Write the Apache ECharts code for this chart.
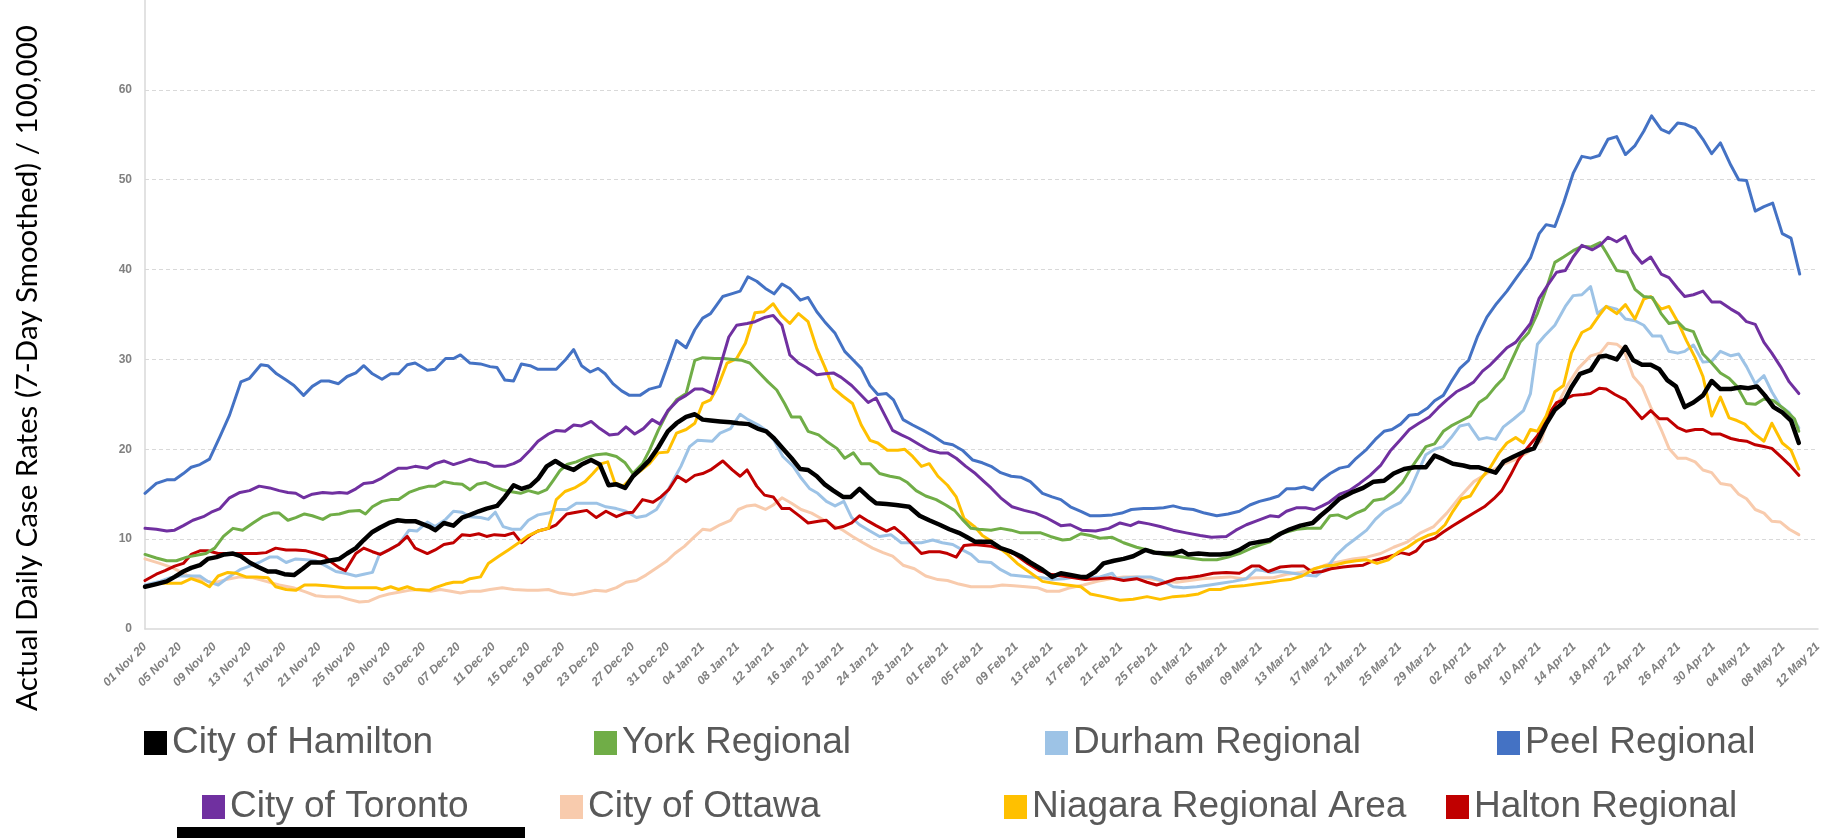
<!DOCTYPE html>
<html><head><meta charset="utf-8">
<script src="https://cdn.jsdelivr.net/npm/echarts@6/dist/echarts.min.js"></script>
<style>html,body{margin:0;padding:0;background:#fff}#c{width:1831px;height:838px}</style>
</head><body><div id="c"></div><script>
// x = days since 01 Nov 2020, y = rate
const tickLabels = ['01 Nov 20','05 Nov 20','09 Nov 20','13 Nov 20','17 Nov 20','21 Nov 20','25 Nov 20','29 Nov 20',
'03 Dec 20','07 Dec 20','11 Dec 20','15 Dec 20','19 Dec 20','23 Dec 20','27 Dec 20','31 Dec 20',
'04 Jan 21','08 Jan 21','12 Jan 21','16 Jan 21','20 Jan 21','24 Jan 21','28 Jan 21',
'01 Feb 21','05 Feb 21','09 Feb 21','13 Feb 21','17 Feb 21','21 Feb 21','25 Feb 21',
'01 Mar 21','05 Mar 21','09 Mar 21','13 Mar 21','17 Mar 21','21 Mar 21','25 Mar 21','29 Mar 21',
'02 Apr 21','06 Apr 21','10 Apr 21','14 Apr 21','18 Apr 21','22 Apr 21','26 Apr 21','30 Apr 21',
'04 May 21','08 May 21','12 May 21'];

const names = ['City of Hamilton','York Regional','Durham Regional','Peel Regional','City of Toronto','City of Ottawa','Niagara Regional Area','Halton Regional'];
const colors = ['#000000','#70ad47','#9dc3e6','#4472c4','#7030a0','#f8cbad','#ffc000','#c00000'];

const hamilton = [[0,4.7],[1.3,5.0],[2.5,5.3],[3.4,5.8],[4.4,6.4],[5.3,6.8],[6.3,7.1],[7.2,7.8],[8.2,8.0],[9.1,8.3],[10.1,8.4],[11.0,8.1],[12.0,7.4],[13.0,6.9],[14.1,6.4],[15.0,6.4],[16.0,6.1],[17.1,6.0],[18.1,6.7],[19.0,7.4],[20.2,7.4],[21.1,7.6],[22.3,7.8],[23.2,8.4],[24.2,9.0],[25.1,9.9],[26.1,10.8],[27.0,11.3],[28.0,11.8],[29.0,12.1],[29.9,12.0],[31.0,12.0],
[32.6,11.4],[33.3,11.0],[34.3,11.8],[35.4,11.5],[36.4,12.4],[37.3,12.7],[38.3,13.1],[39.2,13.4],[40.4,13.7],[41.3,14.7],[42.3,16.0],[43.2,15.6],[44.2,15.9],[45.1,16.7],[46.1,18.1],[47.1,18.7],[48.1,18.1],[49.2,17.7],[50.1,18.3],[51.2,18.8],[52.2,18.3],[53.2,16.0],[54.1,16.1],[55.1,15.7],[56.0,17.0],[57.0,17.9],[57.9,18.8],[58.9,20.2],[60.0,22.0],[61.0,22.9],[62.1,23.6],[63.1,23.9],[64.0,23.3],
[64.9,23.2],[66.0,23.1],[67.2,23.0],[68.1,22.9],[69.3,22.8],[70.3,22.3],[71.3,22.0],[72.2,21.2],[73.2,20.1],[74.2,19.0],[75.2,17.8],[76.1,17.7],[77.1,17.0],[78.0,16.1],[79.0,15.4],[80.1,14.7],[81.0,14.7],[82.0,15.6],[83.0,14.7],[83.9,14.0],[85.1,13.9],[86.2,13.8],[87.7,13.6],[88.9,12.6],[90.0,12.1],[91.2,11.6],[92.3,11.1],[93.4,10.7],[94.2,10.3],[95.3,9.7],
[97.1,9.7],[98.2,9.0],[99.4,8.6],[100.5,8.1],[101.6,7.4],[103.0,6.6],[104.1,5.8],[105.1,6.2],[106.2,6.0],[107.4,5.8],[108.1,5.8],[109.1,6.4],[110.0,7.3],[111.2,7.6],[112.3,7.8],[113.4,8.1],[114.8,8.8],[115.8,8.5],[117.1,8.4],[118.0,8.4],[119.0,8.7],[119.7,8.3],[120.9,8.4],[122.2,8.3],[123.4,8.3],[124.5,8.4],[125.6,8.8],[126.8,9.5],[127.9,9.7],
[129.1,9.9],[130.3,10.6],[131.4,11.1],[132.6,11.5],[134.0,11.8],[134.9,12.6],[136.0,13.5],[137.1,14.5],[138.5,15.2],[139.8,15.7],[141.0,16.4],[142.2,16.5],[143.3,17.3],[144.5,17.8],[145.7,18.0],[147.0,18.0],[148.0,19.3],[149.0,18.9],[150.1,18.4],[151.3,18.2],[152.1,18.0],[153.1,18.0],[154.0,17.7],[155.0,17.4],[155.9,18.6],[157.1,19.2],[158.2,19.7],[159.4,20.1],
[160.8,22.8],[161.8,24.4],[162.8,25.2],[163.7,26.9],[164.7,28.4],[165.9,28.8],[166.9,30.3],[167.7,30.4],[168.9,30.0],[169.9,31.4],[170.8,29.9],[171.8,29.4],[172.8,29.4],[173.8,28.9],[174.7,27.7],[175.7,27.0],[176.7,24.7],[177.7,25.2],[178.8,26.0],[179.8,27.6],[180.8,26.7],[182.0,26.7],[183.1,26.9],[184.0,26.8],[185.0,27.0],[185.9,26.0],[186.9,24.7],[187.9,24.1],[188.9,23.2],[189.8,20.7]];

const york = [[0,8.3],[1.3,7.9],[2.5,7.6],[3.6,7.6],[4.8,8.0],[5.9,8.2],[7.0,8.4],[8.0,9.0],[9.0,10.3],[10.1,11.2],[11.2,11.0],[12.4,11.8],[13.5,12.5],[14.7,12.9],[15.4,12.9],[16.4,12.1],[17.3,12.4],[18.3,12.8],[19.2,12.6],[20.4,12.2],[21.3,12.7],[22.3,12.8],[23.4,13.1],[24.6,13.2],[25.3,12.8],[26.1,13.6],[27.2,14.2],[28.2,14.4],[29.1,14.4],[30.3,15.2],[31.4,15.6],
[32.6,15.9],[33.3,15.9],[34.3,16.4],[35.4,16.2],[36.4,16.1],[37.3,15.5],[38.1,16.1],[39.1,16.3],[40.0,15.9],[41.0,15.5],[41.9,15.3],[43.1,15.1],[44.0,15.4],[45.1,15.1],[46.1,15.5],[46.9,16.6],[47.6,17.6],[48.4,18.3],[49.5,18.6],[50.7,19.1],[51.8,19.4],[52.9,19.5],[54.1,19.2],[55.1,18.5],[56.0,17.3],[57.1,18.4],[57.9,19.9],[58.9,22.1],[60.0,24.2],[61.0,25.5],[62.1,26.2],[63.1,29.9],[64.0,30.2],
[65.4,30.1],[66.4,30.1],[67.5,30.0],[68.5,29.9],[69.4,29.6],[70.6,28.4],[71.5,27.5],[72.5,26.6],[73.4,25.1],[74.2,23.6],[75.2,23.6],[76.1,22.0],[77.3,21.6],[78.2,20.9],[79.4,20.1],[80.3,19.0],[81.3,19.6],[82.2,18.4],[83.2,18.4],[84.3,17.3],[85.5,17.0],[86.6,16.8],[87.5,16.3],[88.5,15.4],[89.6,14.8],[90.8,14.4],[91.9,13.8],[92.9,13.2],[93.8,12.2],[94.8,11.2],[95.7,11.1],
[97.1,11.0],[98.2,11.2],[99.4,11.0],[100.5,10.7],[101.6,10.7],[102.8,10.7],[103.9,10.3],[105.3,9.9],[106.2,10.0],[107.4,10.6],[108.5,10.4],[109.6,10.1],[111.0,10.2],[112.3,9.6],[113.8,9.1],[115.4,8.7],[116.9,8.3],[118.4,8.1],[119.9,7.9],[121.4,7.7],[123.0,7.7],[124.3,8.0],[125.6,8.4],[127.0,9.0],[128.1,9.4],
[129.1,9.7],[130.1,10.5],[131.0,10.8],[132.2,11.1],[133.4,11.2],[134.9,11.2],[136.0,12.6],[136.9,12.7],[137.9,12.3],[139.0,12.9],[140.0,13.3],[141.0,14.3],[142.2,14.5],[143.3,15.3],[144.3,16.3],[145.3,17.9],[146.3,19.3],[147.0,20.3],[148.0,20.6],[149.0,22.0],[149.9,22.6],[151.1,23.2],[152.1,23.7],[153.1,25.2],[154.0,25.8],[155.0,27.0],[155.9,27.9],[156.9,30.0],[157.8,31.9],[158.8,33.0],[159.8,35.1],[160.8,37.8],
[161.8,40.8],[162.8,41.4],[163.9,42.1],[164.9,42.6],[165.9,42.5],[167.0,43.0],[167.7,41.9],[168.9,39.9],[170.1,39.7],[171.0,37.8],[172.0,37.0],[173.0,36.9],[174.0,35.1],[174.9,34.0],[175.9,34.2],[176.7,33.4],[177.7,33.1],[178.8,30.6],[179.8,29.6],[180.8,28.5],[181.8,27.9],[182.7,27.0],[183.8,25.1],[184.8,25.0],[185.8,25.6],[186.9,25.4],[188.1,24.5],[189.3,23.4],[189.8,22.0]];

const durham = [[0,4.9],[1.7,5.3],[2.9,5.7],[4.0,5.9],[5.1,5.9],[6.3,5.9],[7.2,5.3],[8.4,4.9],[9.5,5.7],[10.9,6.6],[12.0,7.0],[13.1,7.4],[14.3,8.0],[15.2,8.0],[16.2,7.4],[17.3,7.8],[18.5,7.7],[19.6,7.6],[20.8,7.0],[21.9,6.4],[23.0,6.2],[24.2,5.9],[25.1,6.1],[26.1,6.3],[26.9,8.3],[28.0,8.8],[29.1,9.4],[30.3,11.0],[31.2,10.9],
[32.4,11.9],[33.3,11.4],[34.5,12.2],[35.4,13.1],[36.4,13.0],[37.3,12.5],[38.5,12.4],[39.4,12.2],[40.2,13.0],[41.1,11.4],[42.1,11.1],[43.1,11.1],[44.0,12.1],[45.1,12.7],[46.3,12.9],[47.2,13.3],[48.4,13.3],[49.5,14.0],[50.7,14.0],[51.8,14.0],[52.9,13.6],[54.1,13.4],[55.2,13.1],[56.4,12.4],[57.5,12.6],[58.7,13.3],[59.6,14.7],[60.6,16.5],[61.5,18.1],[62.5,20.3],[63.4,21.0],
[65.1,20.9],[66.0,21.8],[67.2,22.3],[68.3,23.9],[69.2,23.3],[70.4,22.7],[71.3,22.1],[72.2,21.0],[73.2,19.2],[74.4,18.1],[75.3,16.8],[76.3,15.6],[77.2,15.1],[78.2,14.2],[79.2,13.7],[80.2,14.2],[81.1,12.4],[82.0,11.6],[83.2,10.9],[84.3,10.3],[85.6,10.5],[86.8,9.6],[87.9,9.6],[89.1,9.6],[90.4,9.9],[91.5,9.6],[92.7,9.4],[93.8,8.8],[94.8,8.3],[95.7,7.5],
[97.1,7.4],[98.2,6.6],[99.4,6.0],[100.5,5.9],[101.6,5.8],[103.0,5.7],[104.1,5.5],[105.5,5.6],[106.8,5.8],[108.1,5.7],[109.6,5.8],[111.0,6.2],[111.5,5.6],[112.7,5.7],[114.0,5.8],[115.4,5.8],[116.7,5.4],[118.0,4.7],[119.2,4.6],[120.7,4.7],[122.2,4.9],[123.5,5.1],[124.9,5.3],[126.4,5.6],[127.5,6.6],[128.3,6.5],
[129.1,6.3],[130.3,6.4],[131.8,6.2],[133.0,6.0],[134.4,5.9],[135.7,6.9],[136.7,8.2],[137.9,9.3],[139.0,10.1],[140.2,11.0],[141.2,12.2],[142.2,13.1],[143.3,13.7],[144.1,14.1],[145.1,15.3],[146.1,17.5],[147.0,19.4],[148.0,20.0],[149.0,20.3],[149.9,21.3],[150.9,22.6],[151.9,22.8],[153.1,21.1],[154.0,21.3],[155.0,21.1],[155.9,22.5],[157.1,23.4],[158.2,24.3],[159.0,26.2],[159.8,31.7],[160.6,32.6],
[161.8,33.8],[163.0,35.9],[163.9,37.1],[164.9,37.2],[165.9,38.1],[166.7,35.1],[167.7,35.9],[168.9,35.6],[169.9,34.5],[171.0,34.3],[172.0,33.8],[173.0,32.6],[174.0,32.6],[174.9,30.9],[175.9,30.7],[176.7,30.9],[177.7,31.6],[178.8,29.7],[179.8,29.8],[180.8,30.9],[182.0,30.4],[182.9,30.6],[183.8,29.2],[184.8,27.3],[185.8,28.2],[186.7,26.4],[187.7,24.8],[188.7,24.1],[189.8,22.4]];

const peel = [[0,15.1],[1.3,16.2],[2.5,16.6],[3.4,16.6],[4.4,17.3],[5.3,18.0],[6.3,18.3],[7.4,18.9],[8.6,21.4],[9.7,23.8],[11.0,27.5],[12.0,27.9],[13.3,29.4],[14.1,29.3],[15.1,28.4],[16.2,27.7],[17.1,27.1],[18.2,26.0],[19.2,27.0],[20.2,27.6],[21.1,27.6],[22.2,27.3],[23.2,28.1],[24.2,28.5],[25.1,29.3],[26.1,28.4],[27.2,27.8],[28.2,28.4],[29.1,28.4],[30.1,29.4],[31.0,29.6],
[32.4,28.8],[33.3,28.9],[34.5,30.1],[35.4,30.1],[36.2,30.5],[37.3,29.6],[38.5,29.5],[39.6,29.2],[40.4,29.1],[41.3,27.7],[42.3,27.6],[43.2,29.5],[44.2,29.3],[45.1,28.9],[46.3,28.9],[47.2,28.9],[48.2,29.9],[49.2,31.1],[50.1,29.3],[51.1,28.6],[52.0,29.0],[52.8,28.4],[53.7,27.3],[54.7,26.5],[55.6,26.0],[56.8,26.0],[57.9,26.7],[59.1,27.0],[60.0,29.4],[61.0,32.1],[62.1,31.3],[63.1,33.3],[64.0,34.6],
[64.9,35.1],[66.3,37.0],[67.3,37.3],[68.3,37.6],[69.2,39.2],[70.2,38.7],[71.2,37.9],[72.2,37.3],[73.1,38.4],[74.0,37.9],[75.2,36.6],[76.1,36.9],[77.1,35.3],[78.0,34.2],[79.2,32.9],[80.3,30.9],[81.3,29.9],[82.2,29.0],[83.2,27.1],[84.1,26.1],[85.1,26.2],[85.9,25.5],[87.0,23.3],[88.1,22.7],[89.3,22.1],[90.4,21.5],[91.7,20.7],[92.7,20.5],[93.8,19.9],[95.0,18.8],[96.1,18.5],
[97.1,18.1],[98.2,17.4],[99.4,17.0],[100.5,16.9],[101.6,16.4],[103.0,15.1],[104.1,14.7],[105.1,14.4],[106.2,13.6],[107.4,13.1],[108.5,12.6],[109.6,12.6],[111.0,12.7],[112.1,12.9],[113.2,13.3],[114.6,13.4],[115.7,13.4],[116.9,13.5],[118.0,13.7],[119.2,13.4],[120.3,13.3],[121.6,12.9],[123.0,12.6],[124.3,12.8],[125.6,13.1],[126.8,13.8],[127.9,14.2],
[129.1,14.5],[130.1,14.8],[131.0,15.6],[132.0,15.6],[133.0,15.8],[134.0,15.5],[134.9,16.5],[136.0,17.3],[137.1,17.9],[138.1,18.1],[139.0,19.0],[140.2,20.0],[141.2,21.1],[142.2,22.0],[143.1,22.2],[144.1,22.8],[145.1,23.8],[146.1,23.9],[147.2,24.6],[148.0,25.4],[149.0,26.0],[149.9,27.5],[150.9,29.0],[151.9,29.9],[152.9,32.5],[154.0,34.7],[155.1,36.2],[156.3,37.6],[157.4,39.1],[158.6,40.7],[159.0,41.3],[160.0,44.0],[160.8,45.0],
[161.8,44.8],[162.8,47.4],[163.9,50.7],[164.9,52.6],[165.9,52.4],[166.9,52.7],[167.9,54.5],[168.9,54.8],[169.9,52.8],[171.0,53.8],[172.0,55.4],[172.9,57.1],[174.0,55.6],[174.9,55.2],[175.9,56.3],[176.7,56.2],[177.9,55.7],[178.8,54.5],[179.8,52.9],[180.8,54.1],[182.0,51.6],[182.9,50.0],[183.8,49.9],[184.8,46.5],[185.8,47.0],[186.8,47.4],[187.9,44.0],[188.9,43.5],[189.9,39.5]];

const toronto = [[0,11.2],[1.3,11.1],[2.5,10.9],[3.4,11.0],[4.4,11.5],[5.5,12.1],[6.7,12.5],[7.6,13.0],[8.6,13.4],[9.7,14.6],[10.9,15.2],[12.0,15.4],[13.1,15.9],[14.3,15.7],[15.4,15.4],[16.4,15.2],[17.3,15.1],[18.2,14.6],[19.2,15.0],[20.4,15.2],[21.5,15.1],[22.3,15.2],[23.2,15.1],[24.2,15.6],[25.1,16.2],[26.1,16.3],[27.0,16.7],[28.0,17.3],[29.1,17.9],[30.1,17.9],[31.0,18.1],
[32.4,17.9],[33.3,18.4],[34.3,18.7],[35.4,18.3],[36.4,18.6],[37.3,18.9],[38.3,18.6],[39.2,18.5],[40.1,18.1],[41.3,18.1],[42.3,18.4],[43.1,18.8],[44.2,19.9],[45.1,20.9],[46.3,21.7],[47.2,22.1],[48.2,22.0],[49.2,22.7],[50.1,22.6],[51.2,23.1],[52.2,22.3],[53.3,21.6],[54.3,21.7],[55.2,22.5],[56.2,21.7],[57.2,22.3],[58.2,23.3],[59.1,22.8],[60.0,24.3],[61.2,25.5],[62.1,26.0],[63.1,26.7],[64.0,26.7],
[65.1,26.2],[66.0,29.2],[67.0,32.5],[67.9,33.8],[69.1,34.0],[70.0,34.2],[71.2,34.7],[72.1,34.9],[73.1,33.8],[74.0,30.5],[75.0,29.6],[75.9,29.1],[77.1,28.3],[78.0,28.4],[79.0,28.5],[79.9,28.0],[81.1,27.1],[82.0,26.2],[83.0,25.2],[83.9,25.7],[84.9,23.8],[85.8,22.1],[86.8,21.6],[87.7,21.2],[88.9,20.5],[90.0,19.9],[91.2,19.6],[92.1,19.6],[93.1,19.0],[94.2,18.1],[95.3,17.3],[96.3,16.4],
[97.1,15.7],[98.2,14.6],[99.5,13.6],[100.9,13.2],[102.2,12.9],[103.6,12.3],[105.1,11.5],[106.2,11.6],[107.5,11.0],[109.1,10.9],[110.6,11.2],[111.9,11.8],[113.1,11.5],[114.0,11.9],[115.2,11.7],[116.5,11.4],[118.0,11.0],[119.5,10.7],[121.1,10.4],[122.4,10.2],[124.1,10.3],[125.2,11.0],[126.4,11.6],[127.5,12.0],
[129.1,12.6],[130.1,12.5],[131.0,13.1],[132.2,13.5],[133.2,13.5],[134.2,13.3],[135.1,13.7],[135.9,14.1],[137.1,15.0],[138.2,15.4],[139.4,16.2],[140.6,17.1],[141.8,18.2],[142.9,19.8],[144.1,21.1],[145.1,22.2],[146.2,22.9],[147.4,23.6],[148.4,24.6],[149.4,25.5],[150.5,26.4],[151.7,27.0],[152.5,27.5],[153.5,28.7],[154.4,29.4],[155.4,30.4],[156.3,31.3],[157.3,31.9],[158.2,33.0],[159.0,34.0],[160.0,36.8],
[161.0,38.3],[162.0,39.7],[163.0,39.9],[163.9,41.4],[164.9,42.7],[166.1,42.2],[167.0,42.7],[167.9,43.6],[168.9,43.1],[169.9,43.7],[170.8,41.9],[171.8,40.7],[172.8,41.4],[174.0,39.5],[174.9,39.1],[175.9,37.9],[176.7,37.0],[177.7,37.2],[178.8,37.6],[179.8,36.4],[180.8,36.4],[182.0,35.6],[182.9,35.1],[183.8,34.2],[184.8,33.9],[185.8,31.9],[186.7,30.7],[187.7,29.2],[188.7,27.5],[189.8,26.2]];

const ottawa = [[0,7.8],[1.7,7.3],[3.2,6.8],[4.8,6.0],[6.3,5.6],[7.8,5.1],[9.3,5.5],[10.9,5.8],[12.4,5.7],[13.9,5.3],[15.4,4.9],[17.0,4.6],[18.5,4.1],[19.6,3.7],[20.8,3.6],[22.3,3.6],[23.4,3.3],[24.6,3.0],[25.7,3.1],[26.9,3.6],[28.0,3.9],[29.1,4.1],[30.3,4.3],[31.4,4.4],
[32.8,4.2],[33.9,4.4],[35.1,4.2],[36.2,4.0],[37.3,4.2],[38.5,4.2],[39.6,4.4],[41.0,4.6],[42.3,4.4],[43.9,4.3],[45.1,4.3],[46.3,4.4],[47.6,4.0],[49.1,3.8],[50.3,4.0],[51.6,4.3],[52.9,4.2],[54.1,4.6],[55.2,5.2],[56.4,5.4],[57.5,6.0],[58.7,6.8],[59.8,7.5],[60.8,8.4],[61.9,9.2],[63.1,10.3],[64.0,11.1],
[64.9,11.0],[66.0,11.6],[67.2,12.1],[68.1,13.3],[69.1,13.7],[70.0,13.8],[71.2,13.3],[72.1,13.8],[73.1,14.6],[74.2,14.0],[75.3,13.3],[76.5,12.9],[77.6,12.3],[78.8,11.6],[80.1,11.0],[81.2,10.3],[82.4,9.6],[83.5,9.0],[84.7,8.5],[85.8,8.1],[87.0,7.1],[88.3,6.7],[89.6,5.9],[91.0,5.5],[92.1,5.4],[93.4,5.0],[94.8,4.7],[95.9,4.7],
[97.1,4.7],[98.4,4.9],[99.7,4.8],[101.1,4.7],[102.4,4.6],[103.5,4.2],[104.9,4.2],[106.2,4.6],[107.7,4.9],[109.3,5.3],[110.8,5.6],[112.3,5.8],[113.8,5.8],[115.4,5.6],[116.9,5.3],[118.4,5.2],[119.9,5.4],[121.4,5.6],[123.0,5.7],[124.5,5.8],[126.0,5.6],[127.5,5.7],
[129.5,5.7],[131.0,6.1],[132.6,6.3],[134.2,6.7],[135.7,7.2],[137.1,7.5],[138.6,7.8],[140.2,8.0],[141.8,8.4],[143.3,9.1],[144.9,9.7],[146.4,10.7],[147.9,11.4],[149.4,12.9],[150.9,14.7],[152.5,16.4],[154.0,17.3],[155.6,18.2],[157.1,18.8],[158.6,19.6],[160.2,20.9],
[161.2,23.9],[162.2,25.2],[163.3,27.2],[164.5,29.0],[165.9,30.4],[167.0,30.7],[167.9,31.8],[168.9,31.7],[169.7,31.1],[170.8,28.1],[171.8,27.0],[172.8,24.7],[174.0,22.2],[174.9,20.1],[175.9,19.0],[176.9,19.0],[177.9,18.6],[178.8,17.7],[179.8,17.4],[180.8,16.2],[182.0,16.0],[182.9,15.0],[183.8,14.5],[184.8,13.3],[185.8,12.9],[186.7,12.0],[187.7,11.9],[188.7,11.1],[189.8,10.5]];

const niagara = [[0,4.7],[1.7,5.1],[3.0,5.1],[4.2,5.1],[5.3,5.6],[6.5,5.2],[7.4,4.7],[8.4,5.9],[9.5,6.3],[10.5,6.2],[11.6,5.8],[12.8,5.8],[14.1,5.7],[15.0,4.7],[16.2,4.4],[17.3,4.3],[18.3,4.9],[19.6,4.9],[20.8,4.8],[21.9,4.7],[23.0,4.6],[24.2,4.6],[25.3,4.6],[26.5,4.6],[27.2,4.4],[28.2,4.7],[29.1,4.4],[30.1,4.7],[31.0,4.4],
[32.6,4.3],[33.3,4.6],[34.5,5.0],[35.4,5.2],[36.4,5.2],[37.3,5.6],[38.5,5.8],[39.4,7.3],[40.6,8.1],[41.7,8.8],[42.9,9.6],[44.0,10.4],[45.1,10.9],[46.3,11.2],[47.2,14.4],[48.2,15.3],[49.3,15.7],[50.5,16.4],[51.4,17.3],[52.4,18.4],[53.1,18.6],[53.9,16.3],[54.9,15.9],[56.0,17.0],[57.0,17.7],[57.9,18.4],[58.9,19.6],[60.0,19.7],[61.0,21.8],[62.1,22.2],[63.1,22.9],[64.0,25.1],
[64.9,25.5],[65.8,27.1],[66.8,29.6],[67.9,30.1],[68.9,31.8],[70.0,35.2],[71.0,35.3],[72.1,36.2],[73.0,34.9],[74.0,34.0],[75.0,35.1],[76.1,34.2],[77.1,31.2],[78.0,29.2],[79.0,26.8],[80.1,25.9],[81.2,25.1],[82.2,22.7],[83.2,21.0],[84.1,20.7],[85.2,19.9],[86.4,19.9],[87.2,20.0],[88.1,19.2],[89.1,18.1],[90.0,18.4],[91.0,17.0],[92.1,16.0],[93.1,14.7],[94.0,12.3],[95.2,11.4],[96.1,10.4],
[97.1,9.8],[97.8,9.2],[99.0,8.3],[100.1,7.3],[101.4,6.4],[103.0,5.3],[104.3,5.1],[105.8,4.9],[107.4,4.7],[108.5,3.9],[110.0,3.6],[111.9,3.2],[113.4,3.3],[115.0,3.6],[116.5,3.3],[118.0,3.6],[119.5,3.7],[120.9,3.9],[122.2,4.4],[123.4,4.4],[124.5,4.7],[126.0,4.8],[127.5,5.0],
[129.1,5.2],[130.3,5.4],[131.4,5.5],[132.8,5.9],[134.2,6.7],[135.3,7.0],[136.5,7.1],[137.7,7.4],[139.0,7.6],[140.2,7.7],[141.4,7.3],[142.7,7.7],[143.9,8.6],[144.9,9.1],[146.1,9.9],[147.2,10.4],[148.2,10.7],[149.2,11.6],[150.1,13.1],[151.1,14.5],[152.1,14.8],[153.3,16.7],[154.4,18.0],[155.4,19.6],[156.3,20.7],[157.3,21.3],[158.2,20.7],[159.0,22.2],[159.8,22.0],
[160.8,23.7],[161.8,26.4],[162.8,27.1],[163.7,30.7],[164.9,33.0],[165.9,33.5],[166.9,34.9],[167.7,35.9],[168.9,35.1],[169.9,36.1],[171.0,34.5],[172.0,36.7],[172.8,37.0],[174.0,35.6],[174.9,35.9],[175.9,34.2],[176.9,32.1],[177.9,30.2],[178.8,28.1],[179.8,23.7],[180.8,25.8],[181.8,23.5],[182.7,23.2],[183.6,22.8],[184.6,21.8],[185.8,20.9],[186.7,22.9],[187.9,20.7],[188.9,19.9],[189.8,17.8]];

const halton = [[0,5.4],[1.3,6.1],[2.3,6.5],[3.4,7.0],[4.4,7.3],[5.3,8.3],[6.3,8.7],[7.2,8.7],[8.4,8.4],[9.5,8.4],[10.5,8.4],[11.6,8.4],[12.8,8.4],[13.9,8.5],[15.0,9.0],[16.2,8.8],[17.3,8.8],[18.5,8.7],[19.6,8.4],[20.6,8.1],[21.3,7.5],[22.3,6.8],[23.0,6.5],[24.2,8.4],[25.1,9.0],[26.1,8.6],[27.0,8.3],[28.0,8.8],[29.1,9.4],[30.1,10.3],[31.0,9.0],
[32.4,8.4],[33.3,8.8],[34.3,9.4],[35.4,9.6],[36.4,10.5],[37.3,10.4],[38.3,10.6],[39.2,10.3],[40.1,10.5],[41.3,10.4],[42.3,10.7],[43.2,9.6],[44.2,10.4],[45.1,10.9],[46.3,11.2],[47.2,11.6],[48.4,12.8],[49.5,13.0],[50.7,13.2],[51.8,12.4],[52.9,13.1],[54.1,12.5],[55.1,12.9],[56.0,13.0],[57.1,14.4],[58.3,14.1],[59.2,14.7],[60.1,15.5],[61.1,17.0],[62.1,16.4],[63.1,17.1],[64.0,17.3],
[64.9,17.7],[66.3,18.7],[67.4,17.7],[68.3,17.0],[69.1,17.7],[70.2,15.9],[71.1,14.9],[72.1,14.7],[73.1,13.4],[74.0,13.4],[75.2,12.5],[76.1,11.8],[77.3,12.0],[78.2,12.1],[79.2,11.2],[80.1,11.4],[81.1,11.8],[82.0,12.6],[83.0,12.0],[83.9,11.5],[85.1,10.9],[86.0,11.3],[87.0,10.5],[88.1,9.4],[89.1,8.4],[90.0,8.6],[91.2,8.6],[92.1,8.4],[93.1,8.0],[94.0,9.3],[95.2,9.4],[96.3,9.3],
[97.1,9.2],[98.2,8.9],[99.7,8.4],[101.3,7.3],[102.6,6.5],[103.9,6.1],[105.3,5.9],[106.6,5.7],[107.9,5.5],[109.3,5.6],[110.8,5.7],[112.3,5.4],[113.8,5.6],[115.0,5.2],[116.1,4.9],[117.2,5.2],[118.4,5.6],[119.7,5.7],[121.1,5.9],[122.6,6.2],[124.1,6.3],[125.6,6.2],[127.0,7.0],[127.9,7.0],
[128.9,6.4],[130.3,6.9],[131.6,7.0],[133.0,7.0],[134.0,6.3],[135.1,6.4],[136.1,6.7],[137.5,6.9],[138.6,7.0],[139.8,7.1],[141.0,7.6],[142.2,7.9],[143.3,8.2],[144.1,8.5],[145.1,8.3],[145.9,8.7],[146.8,9.7],[148.0,10.1],[149.0,10.8],[150.1,11.5],[151.3,12.2],[152.5,12.9],[153.7,13.6],[154.8,14.5],[155.7,15.4],[156.7,17.1],[157.6,18.8],[158.6,20.1],[159.8,21.5],
[160.8,23.5],[162.0,25.2],[163.0,25.6],[163.9,26.0],[165.1,26.1],[165.9,26.2],[166.9,26.8],[167.7,26.7],[168.7,26.1],[169.9,25.5],[170.8,24.5],[171.8,23.4],[172.8,24.3],[173.8,23.4],[174.7,23.4],[175.9,22.4],[176.9,22.0],[177.9,22.2],[178.8,22.2],[179.8,21.7],[180.8,21.7],[182.0,21.2],[182.9,21.0],[183.8,20.9],[184.8,20.5],[185.8,20.3],[186.7,20.1],[187.7,19.2],[188.7,18.3],[189.8,17.1]];

const seriesData = [hamilton, york, durham, peel, toronto, ottawa, niagara, halton];
// drawing order (bottom -> top)
const drawOrder = [5, 2, 7, 6, 1, 4, 3, 0];

const legendPos = [[144,723],[594,723],[1045,723],[1497,723],[202,787],[560,787],[1004,787],[1446,787]];

const chart = echarts.init(document.getElementById('c'), null, {renderer:'canvas'});
const option = {
  animation: false,
  backgroundColor: '#ffffff',
  grid: {left: 145, right: 13, top: 0, height: 629, outerBoundsMode: 'none', containLabel: false},
  xAxis: {
    type: 'value', min: 0, max: 192, interval: 4,
    axisLine: {show: true, lineStyle: {color: '#d9d9d9', width: 1.5}},
    axisTick: {show: false},
    splitLine: {show: false},
    axisLabel: {
      rotate: 45, margin: 16, fontSize: 12, fontWeight: 'bold', fontStyle: 'italic',
      fontFamily: 'Liberation Sans', color: '#808080',
      formatter: v => tickLabels[Math.round(v / 4)] || ''
    }
  },
  yAxis: {
    type: 'value', min: 0, max: 70, interval: 10,
    axisLine: {show: true, lineStyle: {color: '#d9d9d9', width: 1.5}},
    axisTick: {show: false},
    splitLine: {show: true, showMaxLine: false, showMinLine: false, lineStyle: {color: '#d9d9d9', type: [4, 3], width: 1.2}},
    axisLabel: {margin: 13, fontSize: 12, fontWeight: 'bold', fontFamily: 'Liberation Sans', color: '#808080', showMaxLabel: false}
  },
  legend: names.map((n, i) => ({
    data: [n], left: legendPos[i][0], top: legendPos[i][1], padding: 0,
    icon: 'rect', itemWidth: 23, itemHeight: 24, itemGap: 0, selectedMode: false,
    textStyle: {fontFamily: 'Liberation Sans', fontSize: 37, color: '#595959', lineHeight: 40}
  })),
  graphic: [
    {type: 'text', x: 27, y: 368, rotation: Math.PI / 2,
     style: {text: 'Actual Daily Case Rates (7-Day Smoothed) / 100,000', fontFamily: 'Lato', fontSize: 29.5, fill: '#000000', align: 'center', verticalAlign: 'middle'}},
    {type: 'rect', shape: {x: 177, y: 827, width: 348, height: 12}, style: {fill: '#000000'}}
  ],
  series: drawOrder.map(i => ({
    name: names[i], type: 'line', data: seriesData[i], showSymbol: false, symbol: 'none',
    z: i === 0 ? 5 : 2,
    itemStyle: {color: colors[i]},
    lineStyle: {color: colors[i], width: i === 0 ? 4.5 : 3, cap: 'round', join: 'round'},
    emphasis: {disabled: true}
  }))
};
chart.setOption(option);
</script></body></html>
